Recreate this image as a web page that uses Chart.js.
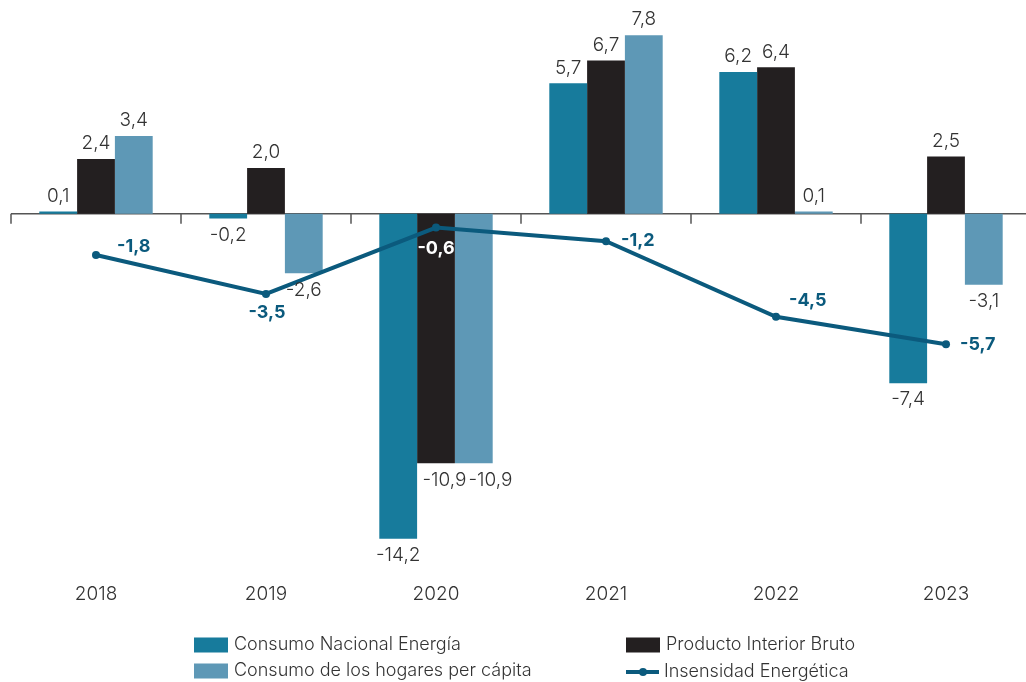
<!DOCTYPE html>
<html>
<head>
<meta charset="utf-8">
<script src="https://cdn.jsdelivr.net/npm/chart.js@4.4.1/dist/chart.umd.min.js"></script>
<style>
  html, body { margin: 0; padding: 0; background: #fff; overflow: hidden; }
  #wrap { position: relative; width: 1040px; height: 682px; }
</style>
</head>
<body>
<div id="wrap"><canvas id="grafico"></canvas></div>
<script>
// Datos
const years = ['2018', '2019', '2020', '2021', '2022', '2023'];
const consumoNacional = [0.1, -0.2, -14.2, 5.7, 6.2, -7.4];
const pib = [2.4, 2.0, -10.9, 6.7, 6.4, 2.5];
const consumoHogares = [3.4, -2.6, -10.9, 7.8, 0.1, -3.1];
const intensidad = [-1.8, -3.5, -0.6, -1.2, -4.5, -5.7];

const colTeal = '#177b9c';
const colBlack = '#231f20';
const colLight = '#5e98b6';
const colLine = '#0b5a7d';
const FONT = 'Inter, "Noto Sans", sans-serif';

const fmt = v => v.toFixed(1).replace('.', ',');

// posición de las etiquetas de la línea (dx, dy, alineación, color)
const lineLabelPos = [
    { dx: 21, dy: -8, align: 'left', color: colLine },
    { dx: 1, dy: 19, align: 'center', color: colLine },
    { dx: 0, dy: 21, align: 'center', color: '#ffffff' },
    { dx: 15, dy: -1, align: 'left', color: colLine },
    { dx: 13, dy: -16, align: 'left', color: colLine },
    { dx: 14, dy: 0, align: 'left', color: colLine }
];

// eje cero con marcas entre categorías
const zeroAxis = {
    id: 'zeroAxis',
    beforeDatasetsDraw(chart) {
        const { ctx, chartArea, scales } = chart;
        const y0 = scales.y.getPixelForValue(0);
        const half = (scales.x.getPixelForValue(1) - scales.x.getPixelForValue(0)) / 2;
        ctx.save();
        ctx.strokeStyle = '#555';
        ctx.lineWidth = 1.5;
        ctx.beginPath();
        ctx.moveTo(chartArea.left, y0);
        ctx.lineTo(chartArea.right, y0);
        for (let i = 0; i <= years.length; i++) {
            const x = scales.x.getPixelForValue(i) - half;
            ctx.moveTo(x, y0);
            ctx.lineTo(x, y0 + 10);
        }
        ctx.stroke();
        ctx.restore();
    }
};

// etiquetas de valores
const valueLabels = {
    id: 'valueLabels',
    afterDatasetsDraw(chart) {
        const { ctx } = chart;
        ctx.save();
        // barras: etiqueta encima o debajo, separando las que se tocan
        ctx.font = '300 19px ' + FONT;
        ctx.fillStyle = '#333';
        ctx.textAlign = 'center';
        years.forEach((y, i) => {
            let prevRight = -Infinity, prevNeg = null;
            chart.data.datasets.forEach((ds, di) => {
                if (ds.type === 'line') return;
                const el = chart.getDatasetMeta(di).data[i];
                const v = ds.data[i];
                const txt = fmt(v);
                const w = ctx.measureText(txt).width;
                let x = el.x;
                const neg = v < 0;
                if (neg === prevNeg && x - w / 2 < prevRight + 2) x = prevRight + 2 + w / 2;
                prevRight = x + w / 2;
                prevNeg = neg;
                if (!neg) {
                    ctx.textBaseline = 'bottom';
                    ctx.fillText(txt, x, el.y - 6);
                } else {
                    ctx.textBaseline = 'top';
                    ctx.fillText(txt, x, el.y + 7);
                }
            });
        });
        // línea
        chart.data.datasets.forEach((ds, di) => {
            if (ds.type !== 'line') return;
            chart.getDatasetMeta(di).data.forEach((el, i) => {
                const p = lineLabelPos[i];
                ctx.font = 'bold 18px ' + FONT;
                ctx.fillStyle = p.color;
                ctx.textAlign = p.align;
                ctx.textBaseline = 'middle';
                ctx.fillText(fmt(ds.data[i]), el.x + p.dx, el.y + p.dy);
            });
        });
        ctx.restore();
    }
};

// leyenda en dos columnas
const legendItems = [
    { text: 'Consumo Nacional Energía', color: colTeal, x: 194, y: 645, kind: 'box' },
    { text: 'Producto Interior Bruto', color: colBlack, x: 626, y: 645, kind: 'box' },
    { text: 'Consumo de los hogares per cápita', color: colLight, x: 194, y: 671, kind: 'box' },
    { text: 'Insensidad Energética', color: colLine, x: 626, y: 672, kind: 'line' }
];
const twoColLegend = {
    id: 'twoColLegend',
    afterDraw(chart) {
        const { ctx } = chart;
        ctx.save();
        ctx.font = '300 18px ' + FONT;
        ctx.textBaseline = 'middle';
        ctx.textAlign = 'left';
        legendItems.forEach(it => {
            if (it.kind === 'box') {
                ctx.fillStyle = it.color;
                ctx.fillRect(it.x, it.y - 7.5, 34, 15);
            } else {
                ctx.strokeStyle = it.color;
                ctx.lineWidth = 4;
                ctx.beginPath();
                ctx.moveTo(it.x, it.y);
                ctx.lineTo(it.x + 33, it.y);
                ctx.stroke();
                ctx.fillStyle = it.color;
                ctx.beginPath();
                ctx.arc(it.x + 17, it.y, 4, 0, Math.PI * 2);
                ctx.fill();
            }
            ctx.fillStyle = '#333';
            ctx.fillText(it.text, it.x + (it.kind === 'box' ? 40 : 38), it.y);
        });
        ctx.restore();
    }
};

new Chart(
    document.getElementById('grafico'),
    {
        type: 'bar',
        data: {
            labels: years,
            datasets: [
                {
                    type: 'line',
                    label: 'Insensidad Energética',
                    data: intensidad,
                    borderColor: colLine,
                    backgroundColor: colLine,
                    borderWidth: 4,
                    pointRadius: 4,
                    pointBackgroundColor: colLine,
                    pointBorderWidth: 0,
                    tension: 0,
                    order: 0
                },
                { label: 'Consumo Nacional Energía', data: consumoNacional, backgroundColor: colTeal, order: 1 },
                { label: 'Producto Interior Bruto', data: pib, backgroundColor: colBlack, order: 1 },
                { label: 'Consumo de los hogares per cápita', data: consumoHogares, backgroundColor: colLight, order: 1 }
            ]
        },
        options: {
            responsive: true,
            maintainAspectRatio: false,
            animation: false,
            layout: {
                padding: { left: 11, right: 9, top: 7.8, bottom: 72.3 }
            },
            datasets: {
                bar: {
                    barPercentage: 1,
                    categoryPercentage: 0.667
                }
            },
            plugins: {
                legend: { display: false },
                tooltip: { enabled: false }
            },
            scales: {
                y: {
                    display: false,
                    min: -15.6,
                    max: 9
                },
                x: {
                    grid: { display: false },
                    border: { display: false },
                    ticks: {
                        color: '#333',
                        padding: 4,
                        font: { family: FONT, size: 19, weight: 300 }
                    }
                }
            }
        },
        plugins: [zeroAxis, valueLabels, twoColLegend]
    }
);
</script>
</body>
</html>
